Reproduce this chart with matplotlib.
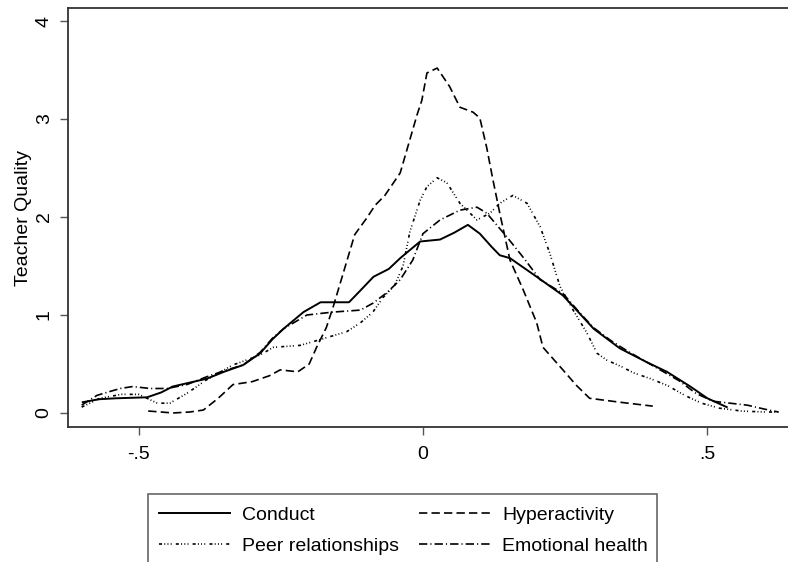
import matplotlib
matplotlib.use("Agg")
import matplotlib.pyplot as plt
from matplotlib.patches import Rectangle

plt.rcParams['font.family'] = ['Liberation Sans', 'DejaVu Sans']
plt.rcParams['lines.scale_dashes'] = False

# ---- data ----
conduct_x = [-0.598, -0.57, -0.54, -0.485, -0.46, -0.44, -0.41, -0.38, -0.35, -0.316, -0.286, -0.265,
             -0.245, -0.21, -0.18, -0.13, -0.11, -0.087, -0.06, -0.04, -0.005, 0.03, 0.055, 0.079,
             0.1, 0.12, 0.135, 0.153, 0.2, 0.246, 0.27, 0.3, 0.346, 0.393, 0.429, 0.47, 0.5, 0.534]
conduct_y = [0.11, 0.14, 0.15, 0.16, 0.21, 0.27, 0.31, 0.35, 0.42, 0.49, 0.61, 0.75,
             0.86, 1.03, 1.13, 1.13, 1.25, 1.39, 1.47, 1.58, 1.75, 1.77, 1.84, 1.92,
             1.83, 1.70, 1.61, 1.58, 1.39, 1.20, 1.05, 0.86, 0.66, 0.52, 0.42, 0.27, 0.15, 0.06]

hyper_x = [-0.483, -0.46, -0.44, -0.41, -0.386, -0.36, -0.334, -0.3, -0.27, -0.251, -0.22, -0.2,
           -0.187, -0.17, -0.158, -0.14, -0.12, -0.1, -0.084, -0.067, -0.04, -0.023, -0.01, -0.002,
           0.007, 0.025, 0.047, 0.065, 0.088, 0.1, 0.112, 0.123, 0.135, 0.153, 0.176, 0.2, 0.211,
           0.246, 0.27, 0.293, 0.346, 0.404]
hyper_y = [0.02, 0.01, 0.0, 0.01, 0.03, 0.15, 0.29, 0.32, 0.38, 0.44, 0.42, 0.50,
           0.67, 0.87, 1.08, 1.43, 1.82, 1.98, 2.12, 2.22, 2.45, 2.79, 3.05, 3.19,
           3.47, 3.52, 3.33, 3.12, 3.07, 3.01, 2.71, 2.38, 2.04, 1.56, 1.26, 0.92, 0.67,
           0.44, 0.28, 0.15, 0.11, 0.07]

peer_x = [-0.6, -0.568, -0.53, -0.5, -0.485, -0.467, -0.445, -0.415, -0.38, -0.334, -0.287, -0.263,
          -0.216, -0.186, -0.134, -0.11, -0.088, -0.07, -0.05, -0.035, -0.023, -0.005, 0.007, 0.025,
          0.042, 0.065, 0.095, 0.118, 0.135, 0.158, 0.183, 0.206, 0.223, 0.241, 0.264, 0.288, 0.306,
          0.323, 0.35, 0.37, 0.4, 0.43, 0.46, 0.49, 0.52, 0.56, 0.6, 0.625]
peer_y = [0.06, 0.15, 0.19, 0.19, 0.15, 0.10, 0.10, 0.20, 0.34, 0.49, 0.59, 0.67,
          0.69, 0.74, 0.83, 0.92, 1.03, 1.18, 1.30, 1.50, 1.85, 2.17, 2.31, 2.40,
          2.35, 2.14, 1.97, 2.04, 2.14, 2.22, 2.14, 1.90, 1.63, 1.29, 1.05, 0.82, 0.61,
          0.54, 0.47, 0.41, 0.35, 0.28, 0.18, 0.10, 0.05, 0.02, 0.01, 0.01]

emo_x = [-0.6, -0.573, -0.55, -0.532, -0.51, -0.48, -0.45, -0.415, -0.38, -0.35, -0.316, -0.286,
         -0.265, -0.245, -0.204, -0.158, -0.11, -0.088, -0.063, -0.04, -0.018, 0.0, 0.03, 0.065,
         0.095, 0.112, 0.147, 0.176, 0.206, 0.246, 0.276, 0.3, 0.33, 0.36, 0.39, 0.42, 0.45,
         0.48, 0.51, 0.54, 0.57, 0.6, 0.625]
emo_y = [0.08, 0.18, 0.22, 0.25, 0.27, 0.25, 0.25, 0.29, 0.37, 0.43, 0.49, 0.62,
         0.76, 0.86, 1.00, 1.03, 1.05, 1.12, 1.23, 1.36, 1.56, 1.83, 1.97, 2.07,
         2.10, 2.04, 1.80, 1.59, 1.36, 1.22, 1.02, 0.87, 0.74, 0.63, 0.53, 0.43, 0.33,
         0.20, 0.12, 0.10, 0.08, 0.04, 0.01]

labels = ["Conduct", "Hyperactivity", "Peer relationships", "Emotional health"]
xticks = [-0.5, 0, 0.5]
xticklabels = ["-.5", "0", ".5"]
yticks = [0, 1, 2, 3, 4]
yticklabels = ["0", "1", "2", "3", "4"]

# ---- figure ----
W, H = 788, 562
fig = plt.figure(figsize=(W / 100, H / 100), dpi=100)
ax = fig.add_axes([68 / W, 1 - 427 / H, (791 - 68) / W, (427 - 8) / H])

lw = 1.2
ax.plot(conduct_x, conduct_y, color='black', lw=1.4, ls='-', label=labels[0])
ax.plot(hyper_x, hyper_y, color='black', lw=lw, ls=(0, (6.0, 3.0)), label=labels[1])
ax.plot(peer_x, peer_y, color='black', lw=lw,
        ls=(0, (2.2, 1.6, 0.7, 1.6, 0.7, 1.6, 0.7, 3.0)), label=labels[2])
ax.plot(emo_x, emo_y, color='black', lw=lw, ls=(0, (6.0, 2.2, 0.8, 2.2)), label=labels[3])

ax.set_xlim(-0.624, 0.647)
ax.set_ylim(-0.143, 4.133)
ax.set_xticks(xticks)
ax.set_xticklabels(xticklabels)
ax.set_yticks(yticks)
ax.set_yticklabels(yticklabels, rotation=90, va='center')
ax.tick_params(axis='both', direction='out', length=6, width=1, color='#555555',
               labelsize=14, pad=5)
ax.tick_params(axis='x', pad=8)
ax.set_ylabel("Teacher Quality", fontsize=14, labelpad=3)
for side in ['left', 'bottom', 'top', 'right']:
    ax.spines[side].set_color('#333333')
    ax.spines[side].set_linewidth(1.3)

# legend frame (bottom edge lies outside the canvas, as in the reference)
fig.patches.append(Rectangle((148 / W, -0.05), (657 - 148) / W, (562 - 494) / H + 0.05,
                             transform=fig.transFigure, fill=False, edgecolor='#666666',
                             lw=1.2))
handles, labs = ax.get_legend_handles_labels()
order = [0, 2, 1, 3]
leg = fig.legend([handles[i] for i in order], [labs[i] for i in order], ncol=2,
                 loc='upper left', bbox_to_anchor=(155 / W, 1 - 502 / H), frameon=False,
                 fontsize=14, handlelength=3.65, handletextpad=0.62, columnspacing=1.05,
                 labelspacing=0.72, borderaxespad=0, borderpad=0.2)

fig.savefig("out.png", dpi=100)
